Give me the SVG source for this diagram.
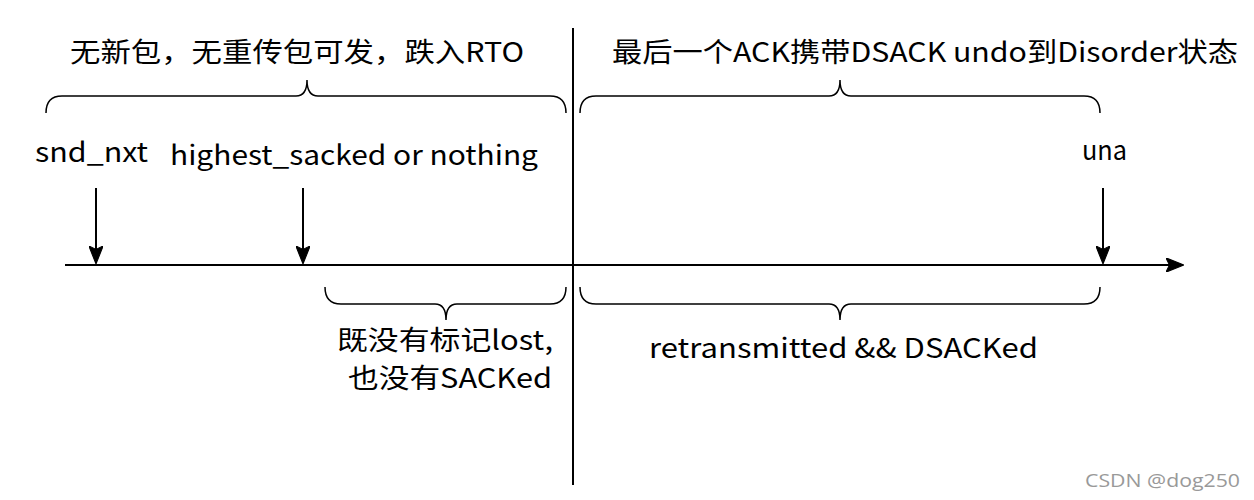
<svg xmlns="http://www.w3.org/2000/svg" width="1254" height="500" viewBox="0 0 1254 500">
<defs>
<style>
.t{font-family:"Noto Sans CJK SC","Liberation Sans",sans-serif;fill:#000;}
.ln{stroke:#000;stroke-width:2;fill:none;}
.br{stroke:#000;stroke-width:1.5;fill:none;}
</style>
<marker id="ah2" viewBox="0 0 10 8" refX="9.5" refY="4" markerWidth="18" markerHeight="14.4" markerUnits="userSpaceOnUse" orient="auto">
<path d="M0,0 L10,4 L0,8 L2,4 z" fill="#000" stroke="#000" stroke-width="0.6" stroke-linejoin="miter"/>
</marker>
</defs>
<rect width="1254" height="500" fill="#fff"/>
<g id="connectors">
<line class="ln" x1="573" y1="28" x2="573" y2="485"/>
<line class="ln" x1="65" y1="265" x2="1183" y2="265" marker-end="url(#ah2)"/>
<line class="ln" x1="96" y1="188" x2="96" y2="263" marker-end="url(#ah2)"/>
<line class="ln" x1="303" y1="188" x2="303" y2="263" marker-end="url(#ah2)"/>
<line class="ln" x1="1103" y1="188" x2="1103" y2="263" marker-end="url(#ah2)"/>
</g>
<g id="brace-top-left">
<path class="br" d="M46,113 Q46,96 62,96 L296,96 Q307,96 307,80 Q307,96 318,96 L550,96 Q566,96 566,113"/>
</g>
<g id="brace-top-right">
<path class="br" d="M580,113 Q580,96 596,96 L829,96 Q840,96 840,80 Q840,96 851,96 L1084,96 Q1100,96 1100,113"/>
</g>
<g id="brace-bottom-left">
<path class="br" d="M325,287 Q325,304 341,304 L435,304 Q446,304 446,320 Q446,304 457,304 L550,304 Q566,304 566,287"/>
</g>
<g id="brace-bottom-right">
<path class="br" d="M580,287 Q580,304 596,304 L829,304 Q840,304 840,320 Q840,304 851,304 L1084,304 Q1100,304 1100,287"/>
</g>
<g id="label-rto"><text class="t" x="70" y="62" font-size="27" textLength="454" lengthAdjust="spacingAndGlyphs">无新包，无重传包可发，跌入RTO</text></g>
<g id="label-dsack"><text class="t" x="612" y="62" font-size="27" textLength="626" lengthAdjust="spacingAndGlyphs">最后一个ACK携带DSACK undo到Disorder状态</text></g>
<g id="label-snd-nxt"><text class="t" x="35" y="162" font-size="27" textLength="113" lengthAdjust="spacingAndGlyphs">snd_nxt</text></g>
<g id="label-highest"><text class="t" x="170" y="165" font-size="27" textLength="368" lengthAdjust="spacingAndGlyphs">highest_sacked or nothing</text></g>
<g id="label-una"><text class="t" x="1082" y="160" font-size="27" textLength="45" lengthAdjust="spacingAndGlyphs">una</text></g>
<g id="label-lost">
<text class="t" x="337" y="350" font-size="27" textLength="216" lengthAdjust="spacingAndGlyphs">既没有标记lost,</text>
<text class="t" x="348" y="388" font-size="27" textLength="204" lengthAdjust="spacingAndGlyphs">也没有SACKed</text>
</g>
<g id="label-retrans"><text class="t" x="649" y="358" font-size="27" textLength="389" lengthAdjust="spacingAndGlyphs">retransmitted &amp;&amp; DSACKed</text></g>
<g id="watermark"><text x="1085" y="487" font-family="'Open Sans','Noto Sans',sans-serif" font-size="18" fill="#999" textLength="155" lengthAdjust="spacingAndGlyphs">CSDN @dog250</text></g>
</svg>
